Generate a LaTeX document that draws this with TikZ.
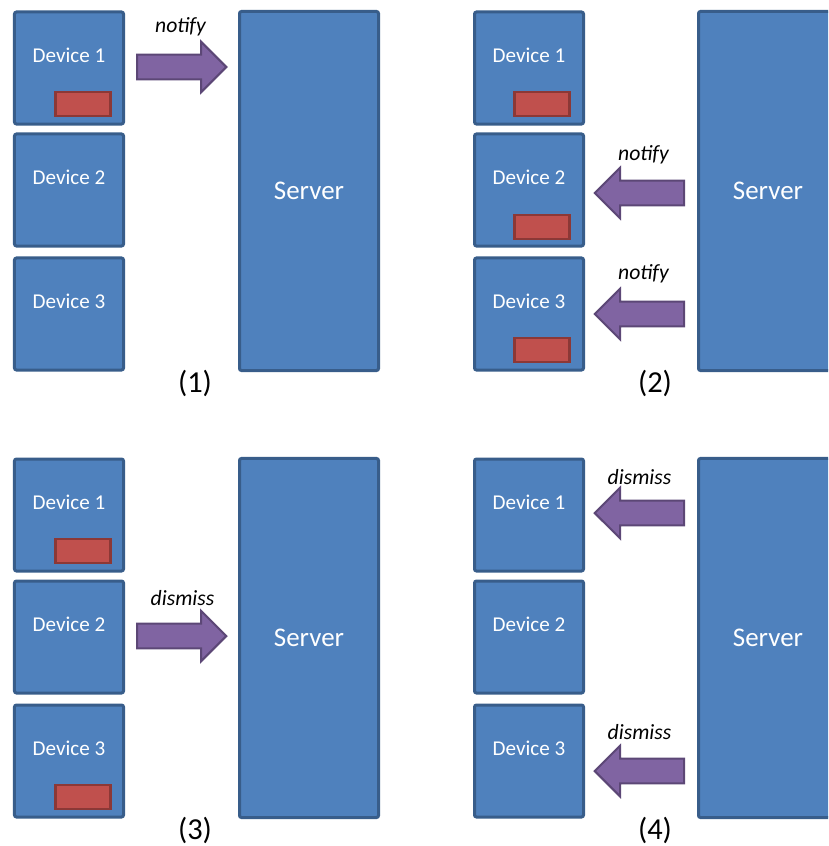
\documentclass[tikz,border=0pt]{standalone}
\usepackage{fontspec}
\setmainfont{Carlito}
\usepackage{tikz}
\usetikzlibrary{shapes.arrows,
  calc,
  positioning}

\definecolor{devblue}{HTML}{4F81BD}
\definecolor{devborder}{HTML}{385D8A}
\definecolor{flagred}{HTML}{C0504D}
\definecolor{flagborder}{HTML}{8C3836}
\definecolor{msgpurple}{HTML}{8064A2}
\definecolor{msgborder}{HTML}{5C4776}

\begin{document}
\begin{tikzpicture}[x=0.03cm, y=-0.03cm]
    % Define styles for nodes and arrows
    \tikzstyle{device} = [rectangle, rounded corners=0.06cm, minimum width=3.27cm, minimum height=3.36cm, fill=devblue, draw=devborder, line width=0.09cm]
    \tikzstyle{devtext} = [text=white, font=\fontsize{18}{20}\selectfont, yshift=0.38cm]
    \tikzstyle{server} = [rectangle, rounded corners=0.06cm, minimum width=4.17cm, minimum height=10.77cm, fill=devblue, draw=devborder, line width=0.09cm, text=white, font=\fontsize{23}{26}\selectfont]
    \tikzstyle{flag} = [rectangle, inner sep=0pt, minimum width=1.65cm, minimum height=0.72cm, fill=flagred, draw=flagborder, line width=0.075cm]
    \tikzstyle{msgtext} = [font=\itshape\fontsize{18.5}{20}\selectfont]
    \tikzstyle{caption} = [font=\fontsize{26}{28}\selectfont]
    % Block arrow for messages
    \tikzset{msgArrow/.style={single arrow, fill=msgpurple, draw=msgborder,
        line width=0.06cm, minimum height=2.68cm, inner xsep=0pt, inner ysep=0.34cm,
        single arrow head extend=0.39cm, anchor=tail
    }}
    \clip (0,0) rectangle (828,846);

    % Panel (1)
    \node (p1dev1) [device, label={[devtext]center:Device 1}] at (69,68) {};
    \node (p1dev2) [device, label={[devtext]center:Device 2}] at (69,190) {};
    \node (p1dev3) [device, label={[devtext]center:Device 3}] at (69,314) {};
    \node (p1server) [server] at (309,191) {Server};
    \node (p1flag1) [flag] at ($(p1dev1.center)+(14,36)$) {};
    \node (p1send) [msgArrow] at ($(p1dev1.east)+(11,-1)$) {};
    \node (p1msg) [msgtext] at ($(p1send.center)+(5,-40)$) {notify};
    \node (p1cap) [caption] at (195,383) {(1)};

    % Panel (2)
    \begin{scope}[shift={(460,0)}]
    \node (p2dev1) [device, label={[devtext]center:Device 1}] at (69,68) {};
    \node (p2dev2) [device, label={[devtext]center:Device 2}] at (69,190) {};
    \node (p2dev3) [device, label={[devtext]center:Device 3}] at (69,314) {};
    \node (p2server) [server] at (308,191) {Server};
    \node (p2flag1) [flag] at ($(p2dev1.center)+(13,36)$) {};
    \node (p2flag2) [flag] at ($(p2dev2.center)+(13,37)$) {};
    \node (p2flag3) [flag] at ($(p2dev3.center)+(13,36)$) {};
    \node (p2send2) [msgArrow, shape border rotate=180] at ($(p2server.west |- p2dev2.east)+(-12,3)$) {};
    \node (p2send3) [msgArrow, shape border rotate=180] at ($(p2server.west |- p2dev3.east)+(-12,0)$) {};
    \node (p2msg2) [msgtext] at ($(p2send2.center)+(-2,-38)$) {notify};
    \node (p2msg3) [msgtext] at ($(p2send3.center)+(-2,-40)$) {notify};
    \node (p2cap) [caption] at (195,383) {(2)};
    \end{scope}

    % Panel (3)
    \begin{scope}[shift={(0,447)}]
    \node (p3dev1) [device, label={[devtext]center:Device 1}] at (69,68) {};
    \node (p3dev2) [device, label={[devtext]center:Device 2}] at (69,190) {};
    \node (p3dev3) [device, label={[devtext]center:Device 3}] at (69,314) {};
    \node (p3server) [server] at (309,191) {Server};
    \node (p3flag1) [flag] at ($(p3dev1.center)+(14,36)$) {};
    \node (p3flag3) [flag] at ($(p3dev3.center)+(14,36)$) {};
    \node (p3send) [msgArrow] at ($(p3dev2.east)+(11,-1)$) {};
    \node (p3msg) [msgtext] at ($(p3send.center)+(7,-38)$) {dismiss};
    \node (p3cap) [caption] at (195,383) {(3)};
    \end{scope}

    % Panel (4)
    \begin{scope}[shift={(460,447)}]
    \node (p4dev1) [device, label={[devtext]center:Device 1}] at (69,68) {};
    \node (p4dev2) [device, label={[devtext]center:Device 2}] at (69,190) {};
    \node (p4dev3) [device, label={[devtext]center:Device 3}] at (69,314) {};
    \node (p4server) [server] at (308,191) {Server};
    \node (p4send1) [msgArrow, shape border rotate=180] at ($(p4server.west |- p4dev1.east)+(-12,-2)$) {};
    \node (p4send3) [msgArrow, shape border rotate=180] at ($(p4server.west |- p4dev3.east)+(-12,10)$) {};
    \node (p4msg1) [msgtext] at ($(p4send1.center)+(-6,-36)$) {dismiss};
    \node (p4msg3) [msgtext] at ($(p4send3.center)+(-6,-39)$) {dismiss};
    \node (p4cap) [caption] at (195,383) {(4)};
    \end{scope}
\end{tikzpicture}
\end{document}
